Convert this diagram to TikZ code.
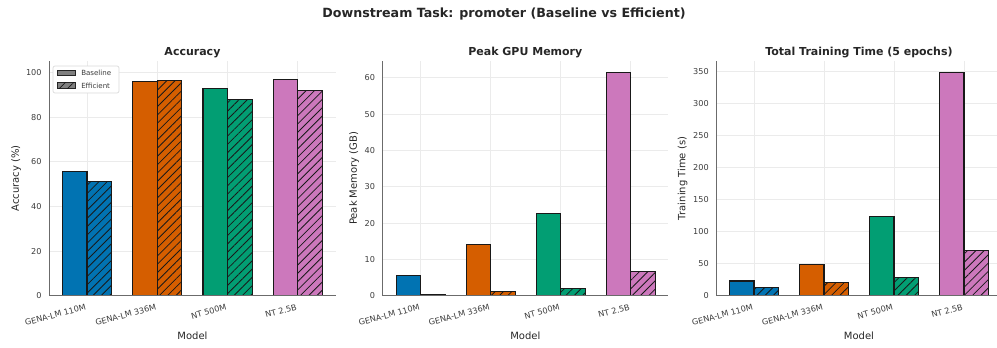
\documentclass[tikz,border=0pt]{standalone}
\usepackage{fontspec}
\setmainfont{DejaVu Sans}
\usetikzlibrary{patterns.meta}
\definecolor{cblue}{HTML}{0173B2}
\definecolor{corange}{HTML}{D55E00}
\definecolor{cgreen}{HTML}{029E73}
\definecolor{cpink}{HTML}{CC78BC}
\definecolor{gridc}{HTML}{EBEBEB}
\definecolor{spinec}{HTML}{6B6B6B}
\definecolor{txt}{HTML}{262626}
\definecolor{legfill}{HTML}{808080}
\tikzset{
  gridline/.style={draw=gridc, line width=0.75pt},
  spine/.style={draw=spinec, line width=1pt},
  bar/.style={draw=black!90, line width=0.8pt},
  hatchfill/.style={pattern={Lines[angle=45,distance=4.4pt,line width=0.6pt]}, pattern color=black!90},
  ticklab/.style={font=\fontsize{6.1}{7}\selectfont, text=txt!90, inner sep=0pt},
  axlab/.style={font=\fontsize{7.5}{9}\selectfont, text=txt, inner sep=0pt},
  titlelab/.style={font=\fontsize{8.25}{10}\selectfont\bfseries, text=txt, inner sep=0pt},
  maintitle/.style={font=\fontsize{9.5}{11}\selectfont\bfseries, text=txt, inner sep=0pt},
  leglab/.style={font=\fontsize{5.3}{6}\selectfont, text=txt!90, inner sep=0pt, anchor=west},
  legbox/.style={draw=black!15, fill=white, line width=0.5pt, rounded corners=1.5pt},
  legpatch/.style={draw=black!85, fill=legfill, line width=0.6pt},
}
\newcommand{\panelbody}{%
  \foreach \v in \pticks {
    \draw[gridline] (\pL,{\pB-\psy*\v}) -- (\pR,{\pB-\psy*\v});
    \node[ticklab, anchor=east] (\pname-y\v) at ({\pL-7.5},{\pB-\psy*\v}) {\v};
  }
  \foreach \u in {0,1,2,3}
    \draw[gridline] ({\pcx+\psx*\u},\pT) -- ({\pcx+\psx*\u},\pB);
  \foreach \u/\b/\e/\c in \pbars {
    \pgfmathsetmacro\xa{\pcx+\psx*\u-0.35*\psx}
    \pgfmathsetmacro\xm{\pcx+\psx*\u}
    \pgfmathsetmacro\xb{\pcx+\psx*\u+0.35*\psx}
    \draw[bar, fill=\c] (\xa,\pB) rectangle (\xm,{\pB-\psy*\b});
    \fill[fill=\c] (\xm,\pB) rectangle (\xb,{\pB-\psy*\e});
    \fill[hatchfill] (\xm,\pB) rectangle (\xb,{\pB-\psy*\e});
    \draw[bar] (\xm,\pB) rectangle (\xb,{\pB-\psy*\e});
  }
  \foreach \u/\t in {0/GENA-LM 110M,1/GENA-LM 336M,2/NT 500M,3/NT 2.5B}
    \node[ticklab, rotate=15, anchor=north east] (\pname-x\u) at ({\pcx+\psx*\u-2},303.5) {\t};
  \draw[spine] (\pL,\pT) -- (\pL,\pB) -- (\pR,\pB);
  \node[titlelab] (\pname-title) at ({(\pL+\pRc)/2},52.7) {\ptitle};
  \node[axlab] (\pname-xlab) at ({(\pL+\pRc)/2},336) {Model};
  \node[axlab, rotate=90] (\pname-ylab) at (\pyl,{(\pT+\pB)/2}) {\pylab};
}
\begin{document}
\begin{tikzpicture}[x=0.75pt,y=-0.75pt]
\path[use as bounding box] (0,0) rectangle (997,347);
\node[maintitle] (main) at (504,14) {Downstream Task: promoter (Baseline vs Efficient)};

% Panel A: Accuracy
\def\pname{a}\def\pL{49.3}\def\pR{335.6}\def\pRc{335.6}\def\pT{61}\def\pB{295.7}
\def\pcx{87}\def\psx{70.3}\def\psy{2.23}
\def\pticks{0,20,40,60,80,100}
\def\pbars{0/55.8/51.4/cblue,1/96.0/96.6/corange,2/93.0/88.1/cgreen,3/97.0/92.1/cpink}
\def\ptitle{Accuracy}\def\pylab{Accuracy (\%)}\def\pyl{16}
\panelbody

% legend
\draw[legbox] (53,66) rectangle (119,93);
\draw[legpatch] (57,70) rectangle (75,75.7);
\draw[legpatch, fill=legfill] (57,82.7) rectangle (75,88);
\fill[hatchfill] (57,82.7) rectangle (75,88);
\node[leglab] (lb) at (81,73) {Baseline};
\node[leglab] (le) at (81,85.4) {Efficient};

% Panel B: Peak GPU Memory
\def\pname{b}\def\pL{382.7}\def\pR{668}\def\pRc{668}\def\pT{61}\def\pB{295.7}
\def\pcx{420.7}\def\psx{70.06}\def\psy{3.633}
\def\pticks{0,10,20,30,40,50,60}
\def\pbars{0/5.6/0.4/cblue,1/14.1/1.1/corange,2/22.5/2.0/cgreen,3/61.4/6.7/cpink}
\def\ptitle{Peak GPU Memory}\def\pylab{Peak Memory (GB)}\def\pyl{354}
\panelbody

% Panel C: Total Training Time
\def\pname{c}\def\pL{716.5}\def\pR{997}\def\pRc{1001.5}\def\pT{61}\def\pB{295.7}
\def\pcx{754}\def\psx{70}\def\psy{0.64}
\def\pticks{0,50,100,150,200,250,300,350}
\def\pbars{0/23/12.5/cblue,1/49/21/corange,2/124/28/cgreen,3/348.4/71/cpink}
\def\ptitle{Total Training Time (5 epochs)}\def\pylab{Training Time (s)}\def\pyl{682.7}
\panelbody
\end{tikzpicture}
\end{document}
